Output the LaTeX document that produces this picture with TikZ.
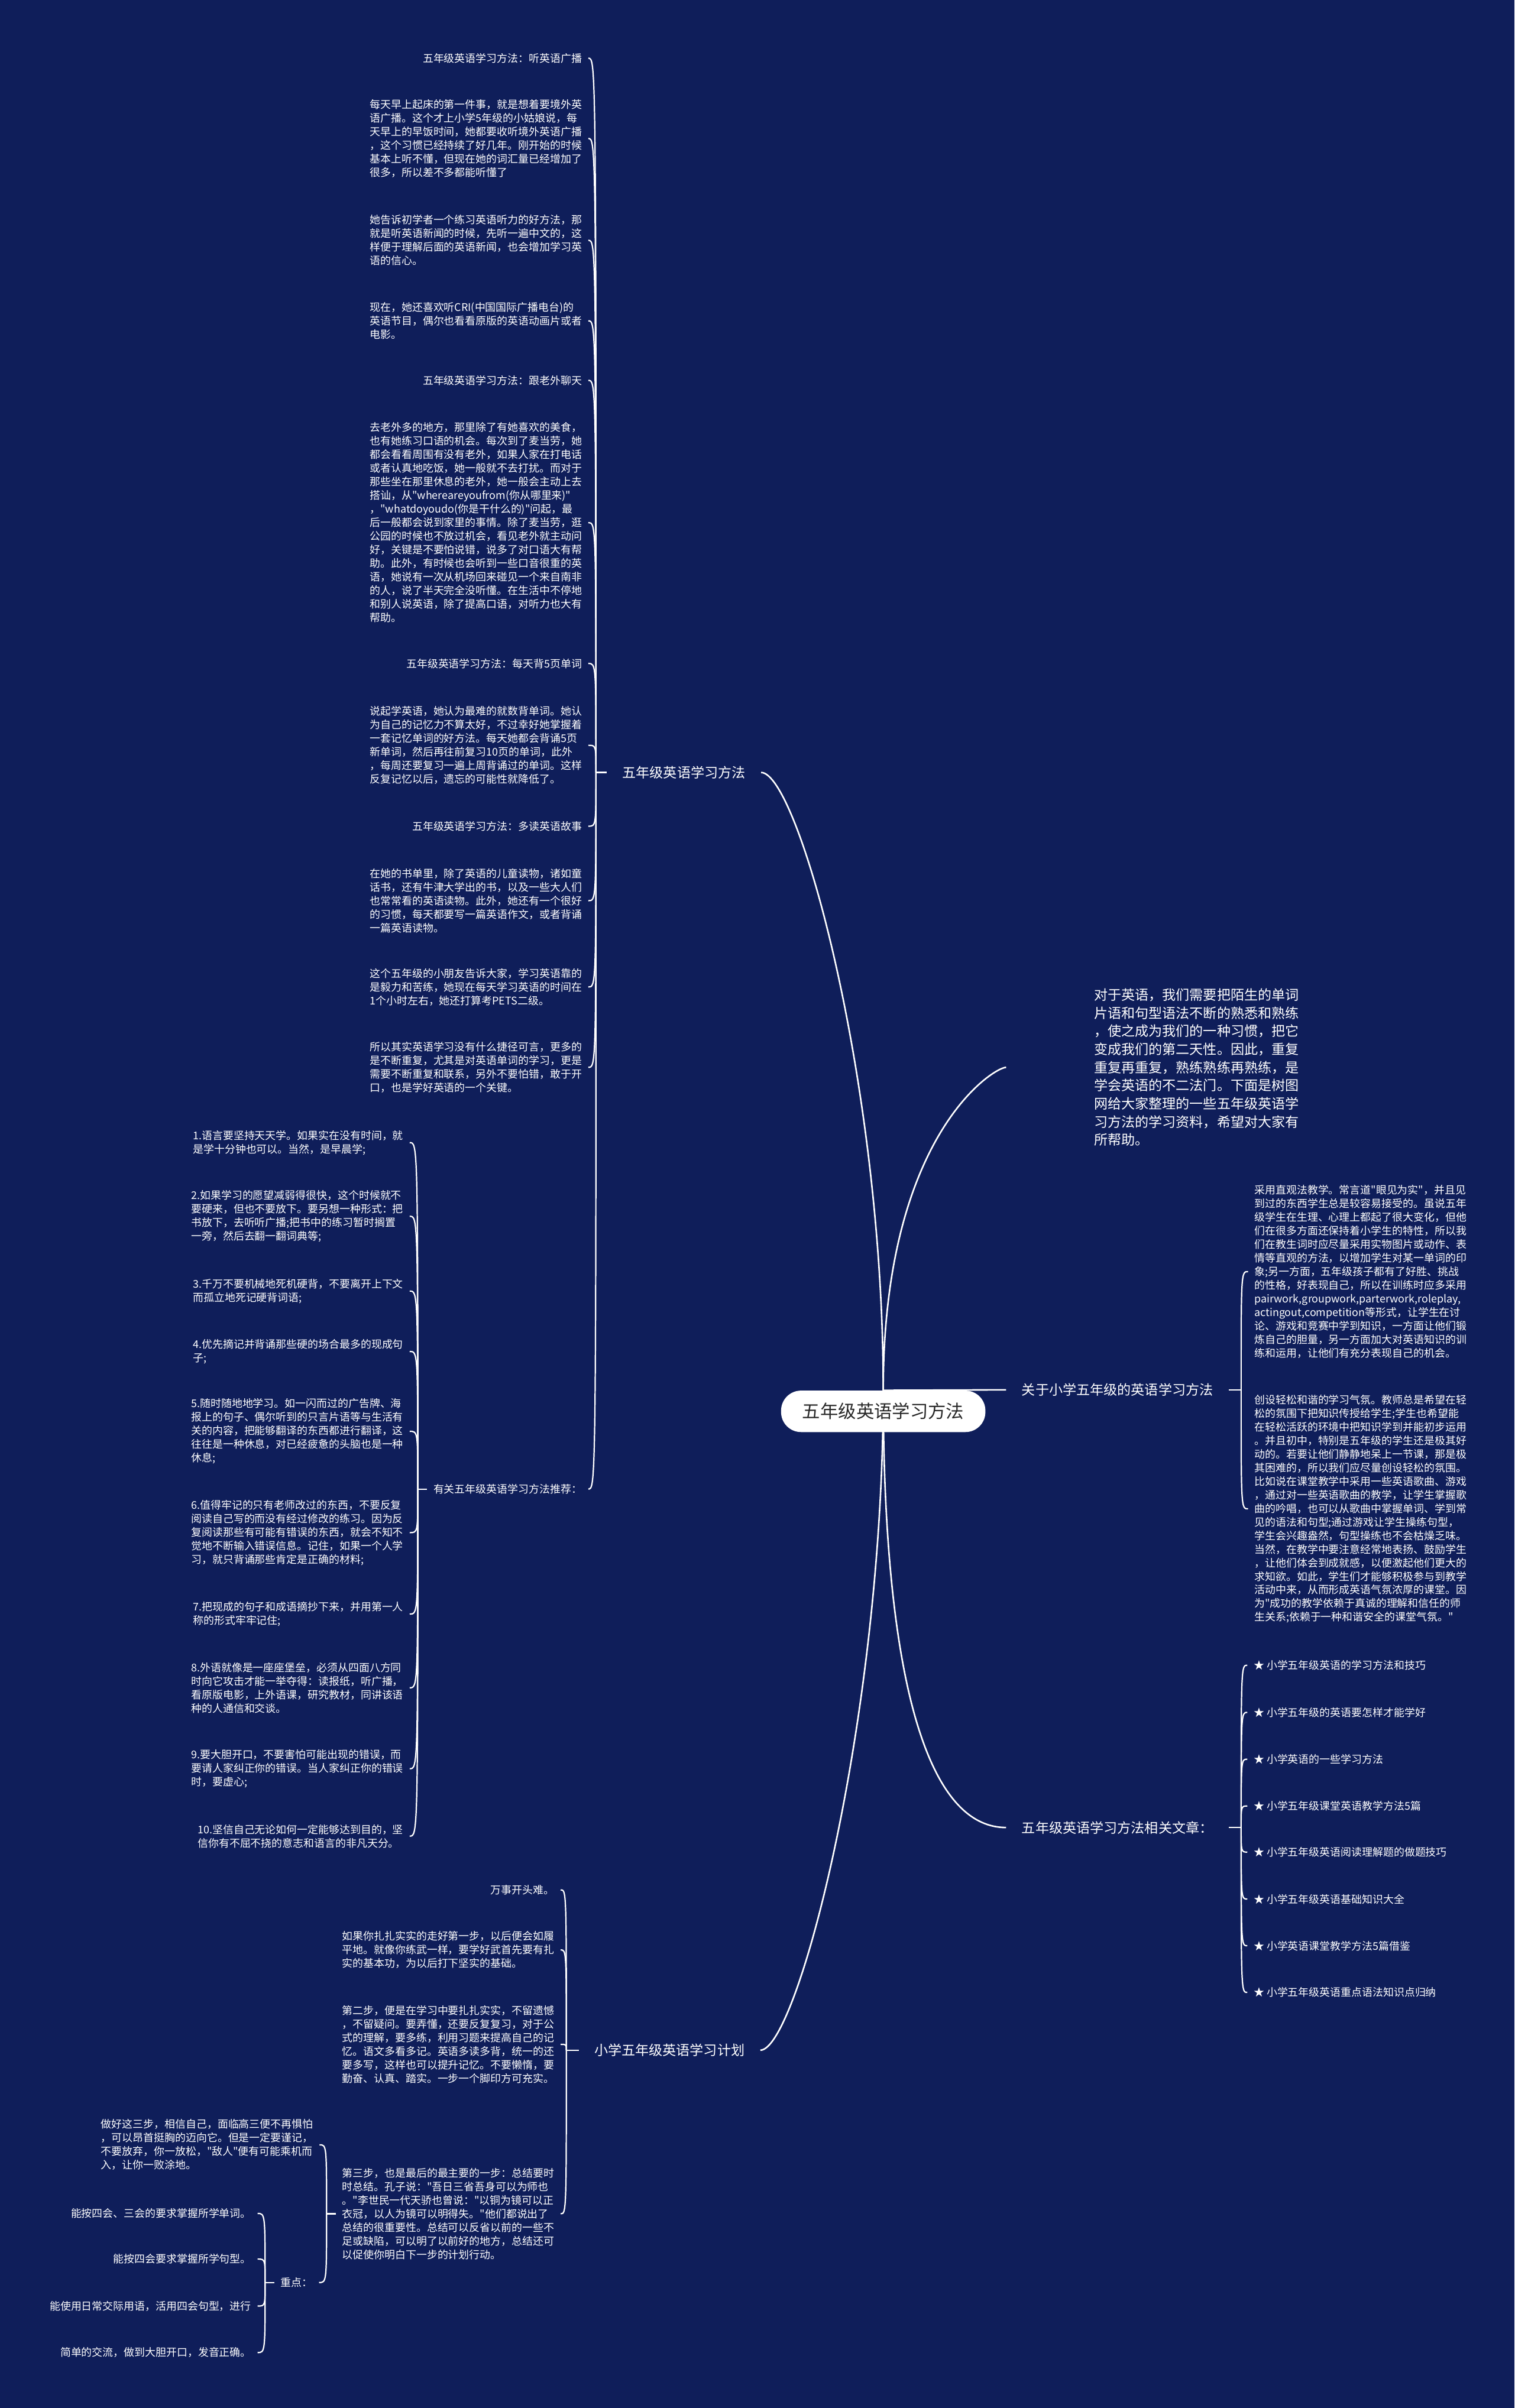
\documentclass[tikz,border=0pt]{standalone}
\usepackage{fontspec}
\setmainfont{Noto Sans CJK SC}[Ligatures=TeXOff]
\usetikzlibrary{backgrounds}
\definecolor{navy}{RGB}{15,30,90}
\definecolor{ink}{RGB}{40,40,40}

\begin{document}
\begin{tikzpicture}[x=1pt, y=-1pt,
    root/.style={rectangle, rounded corners=13pt, fill=white, text=ink, font=\fontsize{11.7}{14}\selectfont, minimum width=133pt, minimum height=27pt, inner sep=0pt},
    topic/.style={text=white, font=\fontsize{8.9}{11}\selectfont, inner xsep=10pt, inner ysep=2pt},
    leaf/.style={text=white, font=\fontsize{6.9}{8.85}\selectfont, align=left, inner xsep=4pt, inner ysep=1pt},
    lleaf/.style={leaf, anchor=east},
    rleaf/.style={leaf, anchor=west},
    intro/.style={text=white, font=\fontsize{8.9}{11.8}\selectfont, align=left, inner sep=0pt},
    limb/.style={white, line width=1pt},
    twig/.style={white, line width=0.85pt}
]

\begin{pgfonlayer}{background}
\fill[navy] (0,0) rectangle (986,1568);
\end{pgfonlayer}
\useasboundingbox (0,0) rectangle (986,1568);

% Center
\node[root] (root) at (575,919) {五年级英语学习方法};

% Main topics
\node[topic, anchor=west] (meth) at (395,503) {五年级英语学习方法};
\node[topic, anchor=east] (plan) at (495,1335) {小学五年级英语学习计划};
\node[topic, anchor=west] (about) at (655,905) {关于小学五年级的英语学习方法};
\node[topic, anchor=west] (arts) at (655,1190) {五年级英语学习方法相关文章：};
\node[intro, anchor=west] (intro) at (712,695) {对于英语，我们需要把陌生的单词\\片语和句型语法不断的熟悉和熟练\\，使之成为我们的一种习惯，把它\\变成我们的第二天性。因此，重复\\重复再重复，熟练熟练再熟练，是\\学会英语的不二法门。下面是树图\\网给大家整理的一些五年级英语学\\习方法的学习资料，希望对大家有\\所帮助。};

% Learning methods
\node[lleaf] (c1) at (383,37.9) {五年级英语学习方法：听英语广播};
\node[lleaf] (p1) at (383,90.2) {每天早上起床的第一件事，就是想着要境外英\\语广播。这个才上小学5年级的小姑娘说，每\\天早上的早饭时间，她都要收听境外英语广播\\，这个习惯已经持续了好几年。刚开始的时候\\基本上听不懂，但现在她的词汇量已经增加了\\很多，所以差不多都能听懂了};
\node[lleaf] (p2) at (383,156.5) {她告诉初学者一个练习英语听力的好方法，那\\就是听英语新闻的时候，先听一遍中文的，这\\样便于理解后面的英语新闻，也会增加学习英\\语的信心。};
\node[lleaf] (p3) at (383,208.9) {现在，她还喜欢听CRI(中国国际广播电台)的\\英语节目，偶尔也看看原版的英语动画片或者\\电影。};
\node[lleaf] (c2) at (383,247.7) {五年级英语学习方法：跟老外聊天};
\node[lleaf] (p4) at (383,340.3) {去老外多的地方，那里除了有她喜欢的美食，\\也有她练习口语的机会。每次到了麦当劳，她\\都会看看周围有没有老外，如果人家在打电话\\或者认真地吃饭，她一般就不去打扰。而对于\\那些坐在那里休息的老外，她一般会主动上去\\搭讪，从"whereareyoufrom(你从哪里来)"\\，"whatdoyoudo(你是干什么的)"问起，最\\后一般都会说到家里的事情。除了麦当劳，逛\\公园的时候也不放过机会，看见老外就主动问\\好，关键是不要怕说错，说多了对口语大有帮\\助。此外，有时候也会听到一些口音很重的英\\语，她说有一次从机场回来碰见一个来自南非\\的人，说了半天完全没听懂。在生活中不停地\\和别人说英语，除了提高口语，对听力也大有\\帮助。};
\node[lleaf] (c3) at (383,432) {五年级英语学习方法：每天背5页单词};
\node[lleaf] (p5) at (383,485.3) {说起学英语，她认为最难的就数背单词。她认\\为自己的记忆力不算太好，不过幸好她掌握着\\一套记忆单词的好方法。每天她都会背诵5页\\新单词，然后再往前复习10页的单词，此外\\，每周还要复习一遍上周背诵过的单词。这样\\反复记忆以后，遗忘的可能性就降低了。};
\node[lleaf] (c4) at (383,538) {五年级英语学习方法：多读英语故事};
\node[lleaf] (p6) at (383,586.5) {在她的书单里，除了英语的儿童读物，诸如童\\话书，还有牛津大学出的书，以及一些大人们\\也常常看的英语读物。此外，她还有一个很好\\的习惯，每天都要写一篇英语作文，或者背诵\\一篇英语读物。};
\node[lleaf] (p7) at (383,642.7) {这个五年级的小朋友告诉大家，学习英语靠的\\是毅力和苦练，她现在每天学习英语的时间在\\1个小时左右，她还打算考PETS二级。};
\node[lleaf] (p8) at (383,695) {所以其实英语学习没有什么捷径可言，更多的\\是不断重复，尤其是对英语单词的学习，更是\\需要不断重复和联系，另外不要怕错，敢于开\\口，也是学好英语的一个关键。};
\node[lleaf] (rec) at (383,969.6) {有关五年级英语学习方法推荐：};

% Recommendations
\node[lleaf] (i1) at (266.7,744) {1.语言要坚持天天学。如果实在没有时间，就\\是学十分钟也可以。当然，是早晨学;};
\node[lleaf] (i2) at (266.7,792) {2.如果学习的愿望减弱得很快，这个时候就不\\要硬来，但也不要放下。要另想一种形式：把\\书放下，去听听广播;把书中的练习暂时搁置\\一旁，然后去翻一翻词典等;};
\node[lleaf] (i3) at (266.7,840.7) {3.千万不要机械地死机硬背，不要离开上下文\\而孤立地死记硬背词语;};
\node[lleaf] (i4) at (266.7,880) {4.优先摘记并背诵那些硬的场合最多的现成句\\子;};
\node[lleaf] (i5) at (266.7,932) {5.随时随地地学习。如一闪而过的广告牌、海\\报上的句子、偶尔听到的只言片语等与生活有\\关的内容，把能够翻译的东西都进行翻译，这\\往往是一种休息，对已经疲惫的头脑也是一种\\休息;};
\node[lleaf] (i6) at (266.7,998) {6.值得牢记的只有老师改过的东西，不要反复\\阅读自己写的而没有经过修改的练习。因为反\\复阅读那些有可能有错误的东西，就会不知不\\觉地不断输入错误信息。记住，如果一个人学\\习，就只背诵那些肯定是正确的材料;};
\node[lleaf] (i7) at (266.7,1051) {7.把现成的句子和成语摘抄下来，并用第一人\\称的形式牢牢记住;};
\node[lleaf] (i8) at (266.7,1099) {8.外语就像是一座座堡垒，必须从四面八方同\\时向它攻击才能一举夺得：读报纸，听广播，\\看原版电影，上外语课，研究教材，同讲该语\\种的人通信和交谈。};
\node[lleaf] (i9) at (266.7,1151.7) {9.要大胆开口，不要害怕可能出现的错误，而\\要请人家纠正你的错误。当人家纠正你的错误\\时，要虚心;};
\node[lleaf] (i10) at (266.7,1195.6) {10.坚信自己无论如何一定能够达到目的，坚\\信你有不屈不挠的意志和语言的非凡天分。};

% Study plan
\node[lleaf] (b1) at (365,1230.6) {万事开头难。};
\node[lleaf] (b2) at (365,1269.7) {如果你扎扎实实的走好第一步，以后便会如履\\平地。就像你练武一样，要学好武首先要有扎\\实的基本功，为以后打下坚实的基础。};
\node[lleaf] (b3) at (365,1331.2) {第二步，便是在学习中要扎扎实实，不留遗憾\\，不留疑问。要弄懂，还要反复复习，对于公\\式的理解，要多练，利用习题来提高自己的记\\忆。语文多看多记。英语多读多背，统一的还\\要多写，这样也可以提升记忆。不要懒惰，要\\勤奋、认真、踏实。一步一个脚印方可充实。};
\node[lleaf] (b4) at (365,1441.5) {第三步，也是最后的最主要的一步：总结要时\\时总结。孔子说："吾日三省吾身可以为师也\\。"李世民一代天骄也曾说："以铜为镜可以正\\衣冠，以人为镜可以明得失。"他们都说出了\\总结的很重要性。总结可以反省以前的一些不\\足或缺陷，可以明了以前好的地方，总结还可\\以促使你明白下一步的计划行动。};
\node[lleaf] (d1) at (208,1396.6) {做好这三步，相信自己，面临高三便不再惧怕\\，可以昂首挺胸的迈向它。但是一定要谨记，\\不要放弃，你一放松，"敌人"便有可能乘机而\\入，让你一败涂地。};
\node[lleaf] (d2) at (207.7,1486.3) {重点：};
\node[lleaf] (e1) at (167.7,1441.3) {能按四会、三会的要求掌握所学单词。};
\node[lleaf] (e2) at (167.7,1471) {能按四会要求掌握所学句型。};
\node[lleaf] (e3) at (167.7,1501.6) {能使用日常交际用语，活用四会句型，进行};
\node[lleaf] (e4) at (167.7,1531.9) {简单的交流，做到大胆开口，发音正确。};

% Teaching methods
\node[rleaf] (f1) at (812.5,828) {采用直观法教学。常言道"眼见为实"，并且见\\到过的东西学生总是较容易接受的。虽说五年\\级学生在生理、心理上都起了很大变化，但他\\们在很多方面还保持着小学生的特性，所以我\\们在教生词时应尽量采用实物图片或动作、表\\情等直观的方法，以增加学生对某一单词的印\\象;另一方面，五年级孩子都有了好胜、挑战\\的性格，好表现自己，所以在训练时应多采用\\pairwork,groupwork,parterwork,roleplay,\\actingout,competition等形式，让学生在讨\\论、游戏和竞赛中学到知识，一方面让他们锻\\炼自己的胆量，另一方面加大对英语知识的训\\练和运用，让他们有充分表现自己的机会。};
\node[rleaf] (f2) at (812.5,982.5) {创设轻松和谐的学习气氛。教师总是希望在轻\\松的氛围下把知识传授给学生;学生也希望能\\在轻松活跃的环境中把知识学到并能初步运用\\。并且初中，特别是五年级的学生还是极其好\\动的。若要让他们静静地呆上一节课，那是极\\其困难的，所以我们应尽量创设轻松的氛围。\\比如说在课堂教学中采用一些英语歌曲、游戏\\，通过对一些英语歌曲的教学，让学生掌握歌\\曲的吟唱，也可以从歌曲中掌握单词、学到常\\见的语法和句型;通过游戏让学生操练句型，\\学生会兴趣盎然，句型操练也不会枯燥乏味。\\当然，在教学中要注意经常地表扬、鼓励学生\\，让他们体会到成就感，以便激起他们更大的\\求知欲。如此，学生们才能够积极参与到教学\\活动中来，从而形成英语气氛浓厚的课堂。因\\为"成功的教学依赖于真诚的理解和信任的师\\生关系;依赖于一种和谐安全的课堂气氛。"};

% Related articles
\node[rleaf] (g1) at (812,1084.3) {★ 小学五年级英语的学习方法和技巧};
\node[rleaf] (g2) at (812,1115) {★ 小学五年级的英语要怎样才能学好};
\node[rleaf] (g3) at (812,1145.5) {★ 小学英语的一些学习方法};
\node[rleaf] (g4) at (812,1176) {★ 小学五年级课堂英语教学方法5篇};
\node[rleaf] (g5) at (812,1206) {★ 小学五年级英语阅读理解题的做题技巧};
\node[rleaf] (g6) at (812,1236.6) {★ 小学五年级英语基础知识大全};
\node[rleaf] (g7) at (812,1267) {★ 小学英语课堂教学方法5篇借鉴};
\node[rleaf] (g8) at (812,1297.4) {★ 小学五年级英语重点语法知识点归纳};

% Spines
\coordinate (sp1) at ([xshift=-7pt]meth.west);
\coordinate (sp2) at ([xshift=-6pt]rec.west);
\coordinate (sp3) at ([xshift=-8pt]plan.west);
\coordinate (sp4) at ([xshift=-6pt]b4.west);
\coordinate (sp5) at ([xshift=-6pt]d2.west);
\coordinate (sp6) at ([xshift=8pt]about.east);
\coordinate (sp7) at ([xshift=8pt]arts.east);

\begin{pgfonlayer}{background}
% Center to topics
\draw[limb] (root.north) .. controls ([yshift=201pt]root.north) and ([xshift=24pt]meth.east) .. (meth.east);
\draw[limb] (root.north) .. controls ([yshift=166pt]root.north) and ([xshift=-65pt]intro.west) .. ([xshift=-57pt]intro.west);
\draw[limb] (root.north) -- (about.west);
\draw[limb] (root.north) .. controls ([yshift=-174pt]root.north) and ([xshift=-55pt]arts.west) .. (arts.west);
\draw[limb] (root.north) .. controls ([yshift=-214pt]root.north) and ([xshift=24pt]plan.east) .. (plan.east);

% Topics to leaves
\draw[twig] (meth.west) -- (sp1);
\foreach \n in {c1,p1,p2,p3,c2,p4,c3,p5,c4,p6,p7,p8,rec}
  \draw[twig] (sp1) .. controls (sp1 |- \n.east) and (sp1 |- \n.east) .. (\n.east);
\draw[twig] (rec.west) -- (sp2);
\foreach \n in {i1,i2,i3,i4,i5,i6,i7,i8,i9,i10}
  \draw[twig] (sp2) .. controls (sp2 |- \n.east) and (sp2 |- \n.east) .. (\n.east);
\draw[twig] (plan.west) -- (sp3);
\foreach \n in {b1,b2,b3,b4}
  \draw[twig] (sp3) .. controls (sp3 |- \n.east) and (sp3 |- \n.east) .. (\n.east);
\draw[twig] (b4.west) -- (sp4);
\foreach \n in {d1,d2}
  \draw[twig] (sp4) .. controls (sp4 |- \n.east) and (sp4 |- \n.east) .. (\n.east);
\draw[twig] (d2.west) -- (sp5);
\foreach \n in {e1,e2,e3,e4}
  \draw[twig] (sp5) .. controls (sp5 |- \n.east) and (sp5 |- \n.east) .. (\n.east);
\draw[twig] (about.east) -- (sp6);
\foreach \n in {f1,f2}
  \draw[twig] (sp6) .. controls (sp6 |- \n.west) and (sp6 |- \n.west) .. (\n.west);
\draw[twig] (arts.east) -- (sp7);
\foreach \n in {g1,g2,g3,g4,g5,g6,g7,g8}
  \draw[twig] (sp7) .. controls (sp7 |- \n.west) and (sp7 |- \n.west) .. (\n.west);
\end{pgfonlayer}

\end{tikzpicture}
\end{document}
